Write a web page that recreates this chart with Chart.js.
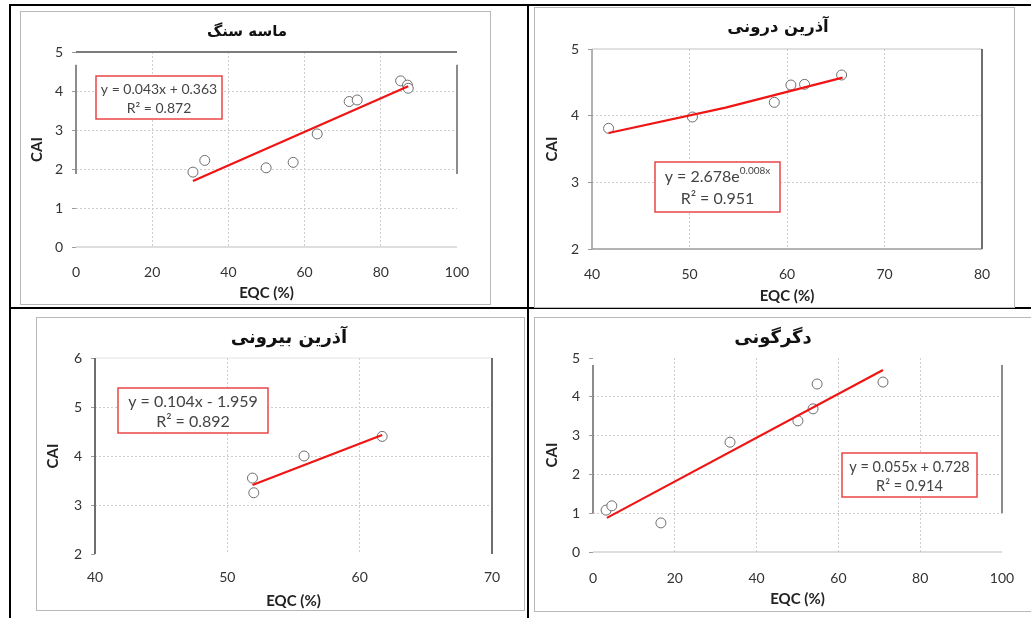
<!DOCTYPE html>
<html>
<head>
<meta charset="utf-8">
<script src="https://cdn.jsdelivr.net/npm/chart.js@4.4.1/dist/chart.umd.min.js"></script>
<style>
  body { margin: 0; width: 1031px; height: 618px; overflow: hidden; background: #fff; }
  .ln { position: absolute; background: #000; }
  .pan { position: absolute; border: 1px solid #b8b8b8; box-sizing: border-box; background: #fff; }
  .pan canvas { position: absolute; left: -1px; top: -1px; }
</style>
</head>
<body>
<div class="ln" style="left:9px;top:4px;width:1022px;height:2px"></div>
<div class="ln" style="left:9px;top:4px;width:2px;height:614px"></div>
<div class="ln" style="left:527px;top:4px;width:2px;height:614px"></div>
<div class="ln" style="left:9px;top:307px;width:1022px;height:2px"></div>

<div class="pan" style="left:20px;top:11px;width:471px;height:294px"><canvas id="c0"></canvas></div>
<div class="pan" style="left:534px;top:7px;width:481px;height:301px"><canvas id="c1"></canvas></div>
<div class="pan" style="left:36px;top:317px;width:489px;height:294px"><canvas id="c2"></canvas></div>
<div class="pan" style="left:534px;top:317px;width:500px;height:295px"><canvas id="c3"></canvas></div>

<script>
// titles (rock groups)
const titles = ['ماسه سنگ', 'آذرین درونی', 'آذرین بیرونی', 'دگرگونی'];

// sandstone
const eqc1 = [30.7, 33.8, 49.9, 57.0, 63.3, 71.7, 73.8, 85.2, 87.0, 87.2];
const cai1 = [1.92, 2.22, 2.03, 2.17, 2.9, 3.73, 3.77, 4.26, 4.15, 4.07];
const trendX1 = [30.7, 87.2];
const trendY1 = [1.69, 4.12];
const eqText1 = ['y = 0.043x + 0.363', 'R² = 0.872'];

// intrusive igneous
const eqc2 = [41.7, 50.3, 58.7, 60.4, 61.8, 65.6];
const cai2 = [3.81, 3.98, 4.2, 4.46, 4.47, 4.61];
const trendX2 = [41.7, 53.7, 65.7];
const trendY2 = [3.74, 4.12, 4.57];
const eqText2 = ['y = 2.678e', 'R² = 0.951'];
const eqSup2 = '0.008x';

// extrusive igneous
const eqc3 = [51.9, 52.0, 55.8, 61.7];
const cai3 = [3.55, 3.25, 4.0, 4.4];
const trendX3 = [51.9, 61.7];
const trendY3 = [3.41, 4.43];
const eqText3 = ['y = 0.104x - 1.959', 'R² = 0.892'];

// metamorphic
const eqc4 = [3.2, 4.6, 16.6, 33.5, 50.1, 53.8, 54.8, 70.9];
const cai4 = [1.08, 1.19, 0.75, 2.83, 3.38, 3.69, 4.33, 4.38];
const trendX4 = [3.4, 70.9];
const trendY4 = [0.88, 4.69];
const eqText4 = ['y = 0.055x + 0.728', 'R² = 0.914'];

// axis ranges [min, max, step]
const xRange = [[0, 100, 20], [40, 80, 10], [40, 70, 10], [0, 100, 20]];
const yRange = [[0, 5, 1], [2, 5, 1], [2, 6, 1], [0, 5, 1]];

const pts = (xs, ys) => xs.map((v, i) => ({x: v, y: ys[i]}));

// title, frame pieces + equation box
const decor = {
  id: 'decor',
  beforeDatasetsDraw(chart, args, o) {
    const {ctx, scales: {x, y}} = chart;
    ctx.save();
    (o.frame || []).forEach(f => {
      ctx.strokeStyle = f[4];
      ctx.lineWidth = f[5];
      ctx.beginPath();
      ctx.moveTo(x.getPixelForValue(f[0]), y.getPixelForValue(f[1]));
      ctx.lineTo(x.getPixelForValue(f[2]), y.getPixelForValue(f[3]));
      ctx.stroke();
    });
    ctx.restore();
  },
  afterDatasetsDraw(chart, args, o) {
    const {ctx, chartArea: a} = chart;
    ctx.save();
    if (o.title) {
      ctx.font = 'bold ' + o.title.size + 'px "DejaVu Sans"';
      ctx.fillStyle = '#111';
      ctx.textAlign = 'center';
      ctx.textBaseline = 'middle';
      ctx.fillText(o.title.text, o.title.x, o.title.y);
    }
    const b = o.box;
    if (b) {
      const L = a.left + b.left, T = a.top + b.top;
      ctx.fillStyle = '#fff';
      ctx.fillRect(L, T, b.w, b.h);
      ctx.strokeStyle = 'rgb(235,70,70)';
      ctx.lineWidth = 1.5;
      ctx.strokeRect(L, T, b.w, b.h);
      ctx.fillStyle = '#444';
      ctx.textBaseline = 'middle';
      const cx = L + b.w / 2;
      b.lines.forEach((t, i) => {
        const yy = T + b.rows[i];
        ctx.font = b.size + 'px Lato';
        if (i === 0 && b.sup) {
          const w1 = ctx.measureText(t).width;
          ctx.font = Math.round(b.size * 0.6) + 'px Lato';
          const w2 = ctx.measureText(b.sup).width;
          const x0 = cx - (w1 + w2) / 2;
          ctx.textAlign = 'left';
          ctx.font = b.size + 'px Lato';
          ctx.fillText(t, x0, yy);
          ctx.font = Math.round(b.size * 0.6) + 'px Lato';
          ctx.fillText(b.sup, x0 + w1, yy - b.size * 0.38);
        } else {
          ctx.textAlign = 'center';
          ctx.fillText(t, cx, yy);
        }
      });
    }
    ctx.restore();
  }
};

const makeChart = (id, n, xs, ys, tx, ty, lay, frame, box) => {
  const cv = document.getElementById(id);
  const pan = cv.parentNode;
  cv.width = pan.offsetWidth;
  cv.height = pan.offsetHeight;
  const [xmin, xmax, xstep] = xRange[n];
  const [ymin, ymax, ystep] = yRange[n];
  const gridCol = (lo, hi) => c => (c.tick && (c.tick.value === lo || c.tick.value === hi)) ? 'rgba(0,0,0,0)' : '#cdcdcd';
  return new Chart(cv.getContext('2d'), {
    type: 'scatter',
    data: {
      datasets: [
        {
          data: pts(tx, ty), showLine: true, pointRadius: 0,
          borderColor: 'rgb(240,20,20)', borderWidth: 2.2, order: 0
        },
        {
          data: pts(xs, ys), pointRadius: 5, pointBorderWidth: 1,
          pointBorderColor: '#6e6e6e', pointBackgroundColor: '#fff', order: 1
        }
      ]
    },
    options: {
      responsive: false,
      animation: false,
      events: [],
      layout: {padding: {left: 0, right: lay.r, top: lay.pt, bottom: 0}},
      plugins: {
        legend: {display: false},
        tooltip: {enabled: false},
        title: {display: false},
        decor: {
          frame: frame, box: box,
          title: {text: titles[n], size: lay.ts, x: lay.tx, y: lay.ty}
        }
      },
      scales: {
        x: {
          type: 'linear', min: xmin, max: xmax,
          afterFit: s => { s.height = lay.xh; },
          ticks: {stepSize: xstep, padding: lay.xp, color: '#333', font: {family: 'Lato', size: 14}},
          grid: {color: gridCol(xmin, xmax), drawTicks: false},
          border: {display: false, dash: [2, 2]},
          title: {display: true, text: 'EQC (%)', color: '#222',
            font: {family: 'Lato', size: 15, weight: 'bold'}, padding: {top: 0, bottom: lay.xt}}
        },
        y: {
          type: 'linear', min: ymin, max: ymax,
          afterFit: s => { s.width = lay.yw; },
          ticks: {stepSize: ystep, padding: 9, color: '#333', font: {family: 'Lato', size: 14}},
          grid: {color: gridCol(ymin, ymax), drawTicks: true, tickLength: 4, tickColor: '#9a9a9a', tickBorderDash: []},
          border: {display: false, dash: [2, 2]},
          title: {display: true, text: 'CAI', color: '#222',
            font: {family: 'Lato', size: 15, weight: 'bold'}, padding: {top: lay.yt, bottom: 0}}
        }
      }
    },
    plugins: [decor]
  });
};

makeChart('c0', 0, eqc1, cai1, trendX1, trendY1,
  {r: 34, ts: 15, tx: 227, ty: 21, pt: 41, xh: 58, xp: 17, xt: 3, yw: 56, yt: 8},
  [[0, 5, 100, 5, '#7c7c7c', 2], [0, 0, 100, 0, '#bdbdbd', 1.2],
   [0, 1.87, 0, 4.67, '#8c8c8c', 2], [100, 1.87, 100, 4.67, '#8c8c8c', 2]],
  {left: 20, top: 24, w: 126, h: 43, size: 14, rows: [13, 32], lines: eqText1});

makeChart('c1', 1, eqc2, cai2, trendX2, trendY2,
  {r: 33, ts: 16.5, tx: 244, ty: 21, pt: 42, xh: 59, xp: 17, xt: 3, yw: 58, yt: 9},
  [[40, 5, 80, 5, '#c4c4c4', 1.2], [40, 2, 80, 2, '#9a9a9a', 1.5],
   [40, 2, 40, 5, '#9a9a9a', 1.5], [80, 2, 80, 5, '#6e6e6e', 2]],
  {left: 63, top: 113, w: 125, h: 50, size: 16, rows: [15, 37], lines: eqText2, sup: eqSup2});

makeChart('c2', 2, eqc3, cai3, trendX3, trendY3,
  {r: 33, ts: 18, tx: 253, ty: 21, pt: 41, xh: 57, xp: 15, xt: 1, yw: 59, yt: 8},
  [[40, 6, 70, 6, '#e2e2e2', 1], [40, 2, 40, 6, '#6e6e6e', 2], [70, 2, 70, 6, '#6e6e6e', 2]],
  {left: 23, top: 30, w: 150, h: 45, size: 16, rows: [14, 34], lines: eqText3});

makeChart('c3', 3, eqc4, cai4, trendX4, trendY4,
  {r: 32, ts: 18, tx: 239, ty: 21, pt: 41, xh: 60, xp: 18, xt: 4, yw: 59, yt: 9},
  [[0, 0, 100, 0, '#bdbdbd', 1.2], [0, 1, 0, 4.82, '#8c8c8c', 2], [100, 1, 100, 4.82, '#8c8c8c', 2]],
  {left: 249, top: 95, w: 135, h: 44, size: 14.5, rows: [14, 33], lines: eqText4});
</script>
</body>
</html>
